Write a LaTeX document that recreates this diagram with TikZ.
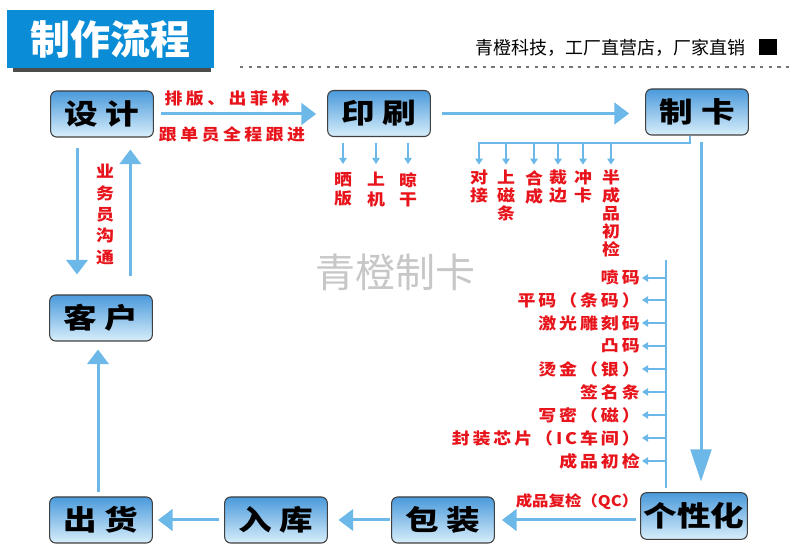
\documentclass[tikz,border=0pt]{standalone}
\usepackage{fontspec}
\usetikzlibrary{arrows.meta}
\newfontfamily\cjk{Noto Sans CJK SC}
\newfontfamily\cjkw{Noto Sans CJK SC}[FakeStretch=1.2]
\newfontfamily\cjkr{Noto Sans CJK SC}[FakeStretch=1.12]
\definecolor{arrowblue}{HTML}{6CB8E8}
\definecolor{labred}{HTML}{E8141B}
\definecolor{titleblue}{HTML}{0A8DD6}
\definecolor{boxtop}{HTML}{4A9ADB}
\definecolor{boxbot}{HTML}{D8EEFB}
\makeatletter
\newcommand\spaced[2]{\def\sp@k{#1}\sp@a#2\relax\relax}
\def\sp@a#1#2{#1\ifx\relax#2\else\kern\sp@k\expandafter\sp@a\expandafter#2\fi}
\makeatother
\tikzset{
  box/.style={draw=black!75, line width=0.8pt, rounded corners=4.5pt,
    top color=boxtop, bottom color=boxbot, minimum width=77pt,
    minimum height=34.5pt, inner sep=0pt,
    font=\cjkw\fontsize{21}{21}\selectfont\bfseries},
  bigarrow/.style={draw=arrowblue, line width=2.25pt,
    -{Triangle[length=11pt,width=16pt,fill=arrowblue]}},
  longarrow/.style={draw=arrowblue, line width=2.25pt,
    -{Triangle[length=24pt,width=15.5pt,fill=arrowblue]}},
  thinline/.style={draw=arrowblue, line width=1.1pt},
  smallarrow/.style={thinline, -{Triangle[length=4.5pt,width=5.5pt,fill=arrowblue]}},
  redlab/.style={text=labred, inner sep=0pt,
    font=\cjkr\fontsize{12}{14.5}\selectfont\bfseries},
  vlab/.style={redlab, align=center, anchor=north},
  vlabt/.style={vlab, font=\cjkr\fontsize{12}{13.5}\selectfont\bfseries},
  rlab/.style={redlab, anchor=east}
}
\begin{document}
\begin{tikzpicture}[x=0.75pt,y=-0.75pt]
\useasboundingbox (0,0) rectangle (790,548);
\fill[white] (0,0) rectangle (790,548);
% title
\fill[black!70] (13,65) rectangle (211,72);
\node[fill=titleblue, minimum width=155pt, minimum height=43.5pt, inner sep=0pt,
  text=white, font=\cjk\fontsize{30}{30}\selectfont\bfseries] (title) at (110.5,39) {制作流程};
\node[anchor=east, inner sep=0pt, font=\cjk\fontsize{13.5}{14}\selectfont] (slogan) at (746,48) {青橙科技，工厂直营店，厂家直销};
\node[fill=black, minimum width=13.5pt, minimum height=12pt, inner sep=0pt] (sq) at (768,47) {};
\draw[dash pattern=on 2.5pt off 4pt, black!55, line width=0.8pt] (240,67) -- (790,67);
% watermark
\node[text=black!22, font=\cjk\fontsize{30}{30}\selectfont] (wm) at (395,272) {青橙制卡};
% boxes
\node[box] (sheji) at (102,114) {设\kern6pt 计};
\node[box] (yinshua) at (379,113.5) {印\kern6pt 刷};
\node[box] (zhika) at (697,112) {制\kern6pt 卡};
\node[box] (kehu) at (101,318) {客\kern6pt 户};
\node[box] (chuhuo) at (101,520) {出\kern6pt 货};
\node[box] (ruku) at (276,520) {入\kern6pt 库};
\node[box] (baozhuang) at (443,520) {包\kern6pt 装};
\node[box, minimum width=80pt, minimum height=35pt] (gexing) at (694,516) {个性化};
% main arrows
\draw[bigarrow, shorten <=5.25pt, shorten >=8.25pt] (sheji.east) -- (yinshua.west |- sheji.east);
\node[redlab] (l1) at (227,99) {\spaced{2.6pt}{排版、出菲林}};
\node[redlab] (l2) at (232,134) {\spaced{2.6pt}{跟单员全程跟进}};
\draw[bigarrow, shorten <=8.25pt, shorten >=12pt] (yinshua.east) -- (zhika.west |- yinshua.east);
\draw[longarrow, shorten <=4.5pt, shorten >=8pt] ([xshift=3pt]zhika.south) -- ([xshift=3pt]zhika.south |- gexing.north);
\draw[bigarrow, shorten <=8pt, shorten >=15pt] ([xshift=-18.75pt]sheji.south) -- ([xshift=-18.75pt]sheji.south |- kehu.north);
\draw[bigarrow, shorten <=13.5pt, shorten >=9pt] ([xshift=22pt]kehu.north) -- ([xshift=22pt]kehu.north |- sheji.south);
\node[vlab, font=\cjkr\fontsize{12}{16}\selectfont\bfseries] (ywy) at (105,164) {业\\务\\员\\沟\\通};
\draw[bigarrow, shorten <=3pt, shorten >=6pt] ([xshift=-2.25pt]chuhuo.north) -- ([xshift=-2.25pt]chuhuo.north |- kehu.south);
\draw[bigarrow, shorten <=3pt, shorten >=5.25pt] (baozhuang.east -| gexing.west) -- (baozhuang.east);
\node[redlab, font=\cjkr\fontsize{11}{12}\selectfont\bfseries] (qc) at (577,502) {成品复检（QC）};
\draw[bigarrow, shorten <=1pt, shorten >=8pt] (baozhuang.west) -- (ruku.east);
\draw[bigarrow, shorten <=3.75pt, shorten >=3.75pt] (ruku.west) -- (chuhuo.east);
% yinshua branches
\node[vlab] (sb) at (343,172) {晒\\版};
\node[vlab] (sj) at (376,172) {上\\机};
\node[vlab] (lg) at (408,172) {晾\\干};
\foreach \n in {sb,sj,lg}
  \draw[smallarrow, shorten <=4.5pt, shorten >=6pt] (\n.north |- yinshua.south) -- (\n.north);
% zhika branches
\coordinate (brL) at (478,143);
\draw[thinline] ([xshift=-5.25pt]zhika.south) |- (brL);
\node[vlabt] (dj) at (479,170) {对\\接};
\node[vlabt] (scd) at (506,170) {上\\磁\\条};
\node[vlabt] (hc) at (534,170) {合\\成};
\node[vlabt] (cb) at (558,170) {裁\\边};
\node[vlabt] (ck) at (583,170) {冲\\卡};
\node[vlabt] (bcp) at (611,170) {半\\成\\品\\初\\检};
\foreach \n in {dj,scd,hc,cb,ck,bcp}
  \draw[smallarrow, shorten >=4pt] (brL -| \n.north) -- (\n.north);
% right column
\coordinate (rtop) at (666,260);
\coordinate (rbot) at (666,488);
\draw[thinline] (rtop) -- (rbot);
\node[rlab] (r1) at (640,278) {\spaced{2.2pt}{喷码}};
\node[rlab] (r2) at (640,300) {\spaced{2.2pt}{平码（条码）}};
\node[rlab] (r3) at (640,323) {\spaced{2.2pt}{激光雕刻码}};
\node[rlab] (r4) at (640,346) {\spaced{2.2pt}{凸码}};
\node[rlab] (r5) at (640,369) {\spaced{2.2pt}{烫金（银）}};
\node[rlab] (r6) at (640,392) {\spaced{2.2pt}{签名条}};
\node[rlab] (r7) at (640,415) {\spaced{2.2pt}{写密（磁）}};
\node[rlab] (r8) at (640,438) {\spaced{2.2pt}{封装芯片（IC车间）}};
\node[rlab] (r9) at (640,461) {\spaced{2.2pt}{成品初检}};
\foreach \n in {r1,r2,r3,r4,r5,r6,r7,r8,r9}
  \draw[smallarrow, shorten >=1.5pt] (rtop |- \n.east) -- (\n.east);
\end{tikzpicture}
\end{document}
